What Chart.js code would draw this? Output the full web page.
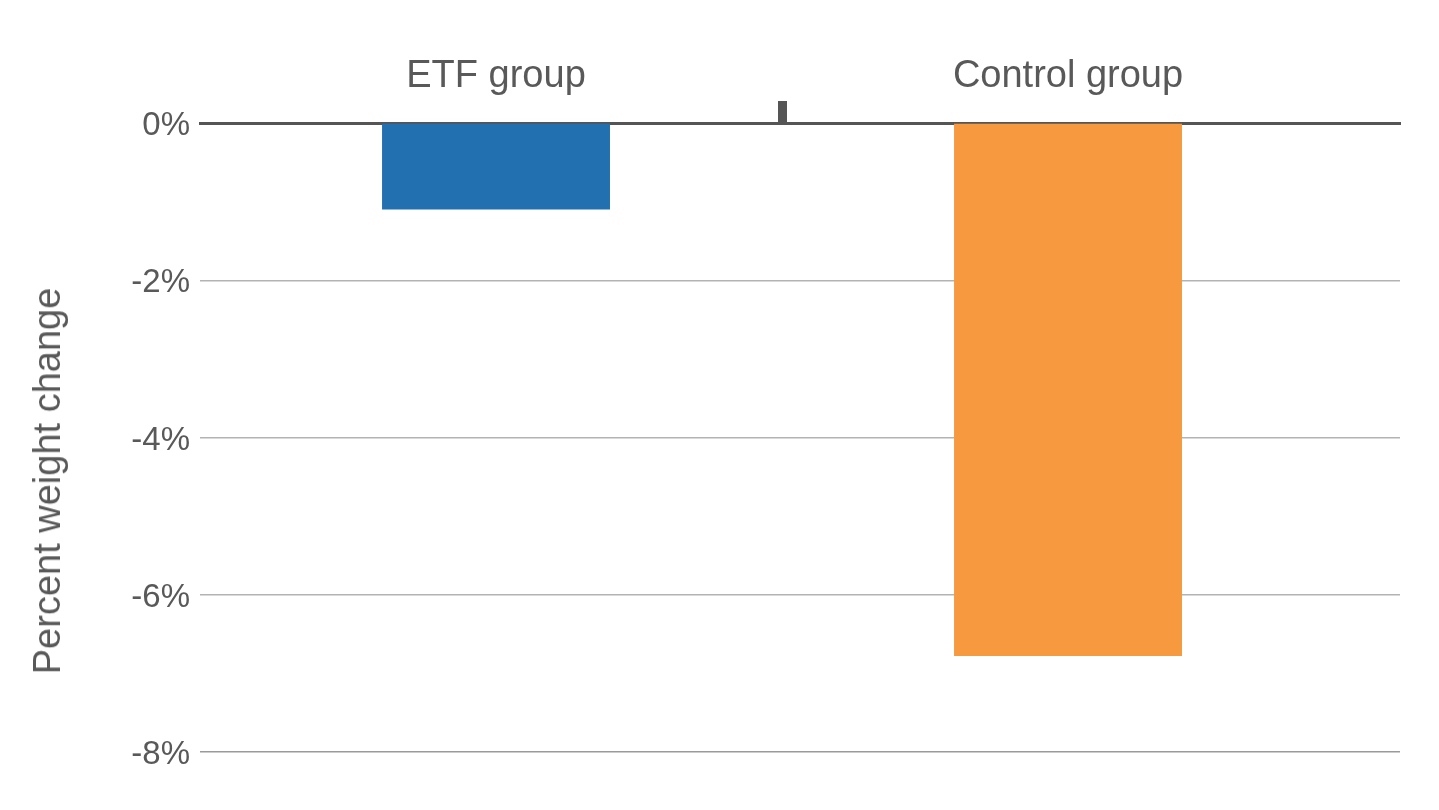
<!DOCTYPE html>
<html>
<head>
<meta charset="utf-8">
<script src="https://cdn.jsdelivr.net/npm/chart.js@4/dist/chart.umd.min.js"></script>
<style>
  html, body { margin: 0; padding: 0; background: #fff; }
  #wrap { position: relative; width: 1439px; height: 810px; }
  #yTitle {
    position: absolute;
    left: 47px;
    top: 481px;
    transform: translate(-50%, -50%) rotate(-90deg);
    font: 38px "Liberation Sans", Arial, sans-serif;
    line-height: 38px;
    color: #595959;
    white-space: nowrap;
  }
</style>
</head>
<body>
<div id="wrap">
  <canvas id="weightChart"></canvas>
  <div id="yTitle">Percent weight change</div>
</div>
<script>
const CHART_ID = 'weightChart';

const groups = ['ETF group', 'Control group'];
const weightChange = [-1.1, -6.78];
const barColors = ['#2270b0', '#f7993e'];
const yTicks = [0, -2, -4, -6, -8];

const TEXT_COLOR = '#595959';
const FONT = '"Liberation Sans", Arial, sans-serif';

// groups sit on a linear x scale so the plot can extend past them on both sides
const points = groups.map((_g, i) => ({ x: i, y: weightChange[i] }));
const xTickValues = [0, 0.5, 1];

const data = {
  datasets: [{
    data: points,
    backgroundColor: barColors,
    borderWidth: 0,
    barPercentage: 0.797,
    categoryPercentage: 1
  }]
};

const config = {
  type: 'bar',
  data: data,
  options: {
    responsive: true,
    maintainAspectRatio: false,
    animation: false,
    layout: { padding: { top: 0, left: 0, right: 39, bottom: 58 } },
    plugins: {
      legend: { display: false },
      tooltip: { enabled: false }
    },
    scales: {
      x: {
        type: 'linear',
        position: 'top',
        offset: false,
        min: -0.5175,
        max: 1.5804,
        z: 1,
        afterFit: (scale) => { scale.height = 123; },
        afterBuildTicks: (scale) => {
          scale.ticks = xTickValues.map(v => ({ value: v }));
        },
        border: { display: true, color: '#555555', width: 3 },
        grid: {
          offset: false,
          drawOnChartArea: false,
          drawTicks: true,
          tickLength: 22,
          tickWidth: 9,
          tickColor: (ctx) => ctx.tick && ctx.tick.value === 0.5 ? '#555555' : 'rgba(0,0,0,0)'
        },
        ticks: {
          autoSkip: false,
          maxRotation: 0,
          padding: 2,
          color: TEXT_COLOR,
          font: { family: FONT, size: 38 },
          callback: (value) => Number.isInteger(value) ? groups[value] : ''
        }
      },
      y: {
        min: -8,
        max: 0,
        afterFit: (scale) => { scale.width = 200; },
        afterBuildTicks: (scale) => {
          scale.ticks = yTicks.map(v => ({ value: v }));
        },
        border: { display: false },
        grid: {
          drawTicks: false,
          lineWidth: 1.5,
          color: (ctx) => {
            if (!ctx.tick) return '#b3b3b3';
            if (ctx.tick.value === 0) return 'rgba(0,0,0,0)';
            if (ctx.tick.value === -8) return '#9a9a9a';
            return '#b3b3b3';
          }
        },
        ticks: {
          padding: 10,
          labelOffset: 3,
          color: TEXT_COLOR,
          font: { family: FONT, size: 33 },
          callback: (value) => value + '%'
        }
      }
    }
  }
};

window.onload = () => {
  new Chart(document.getElementById(CHART_ID), config);
};
</script>
</body>
</html>
